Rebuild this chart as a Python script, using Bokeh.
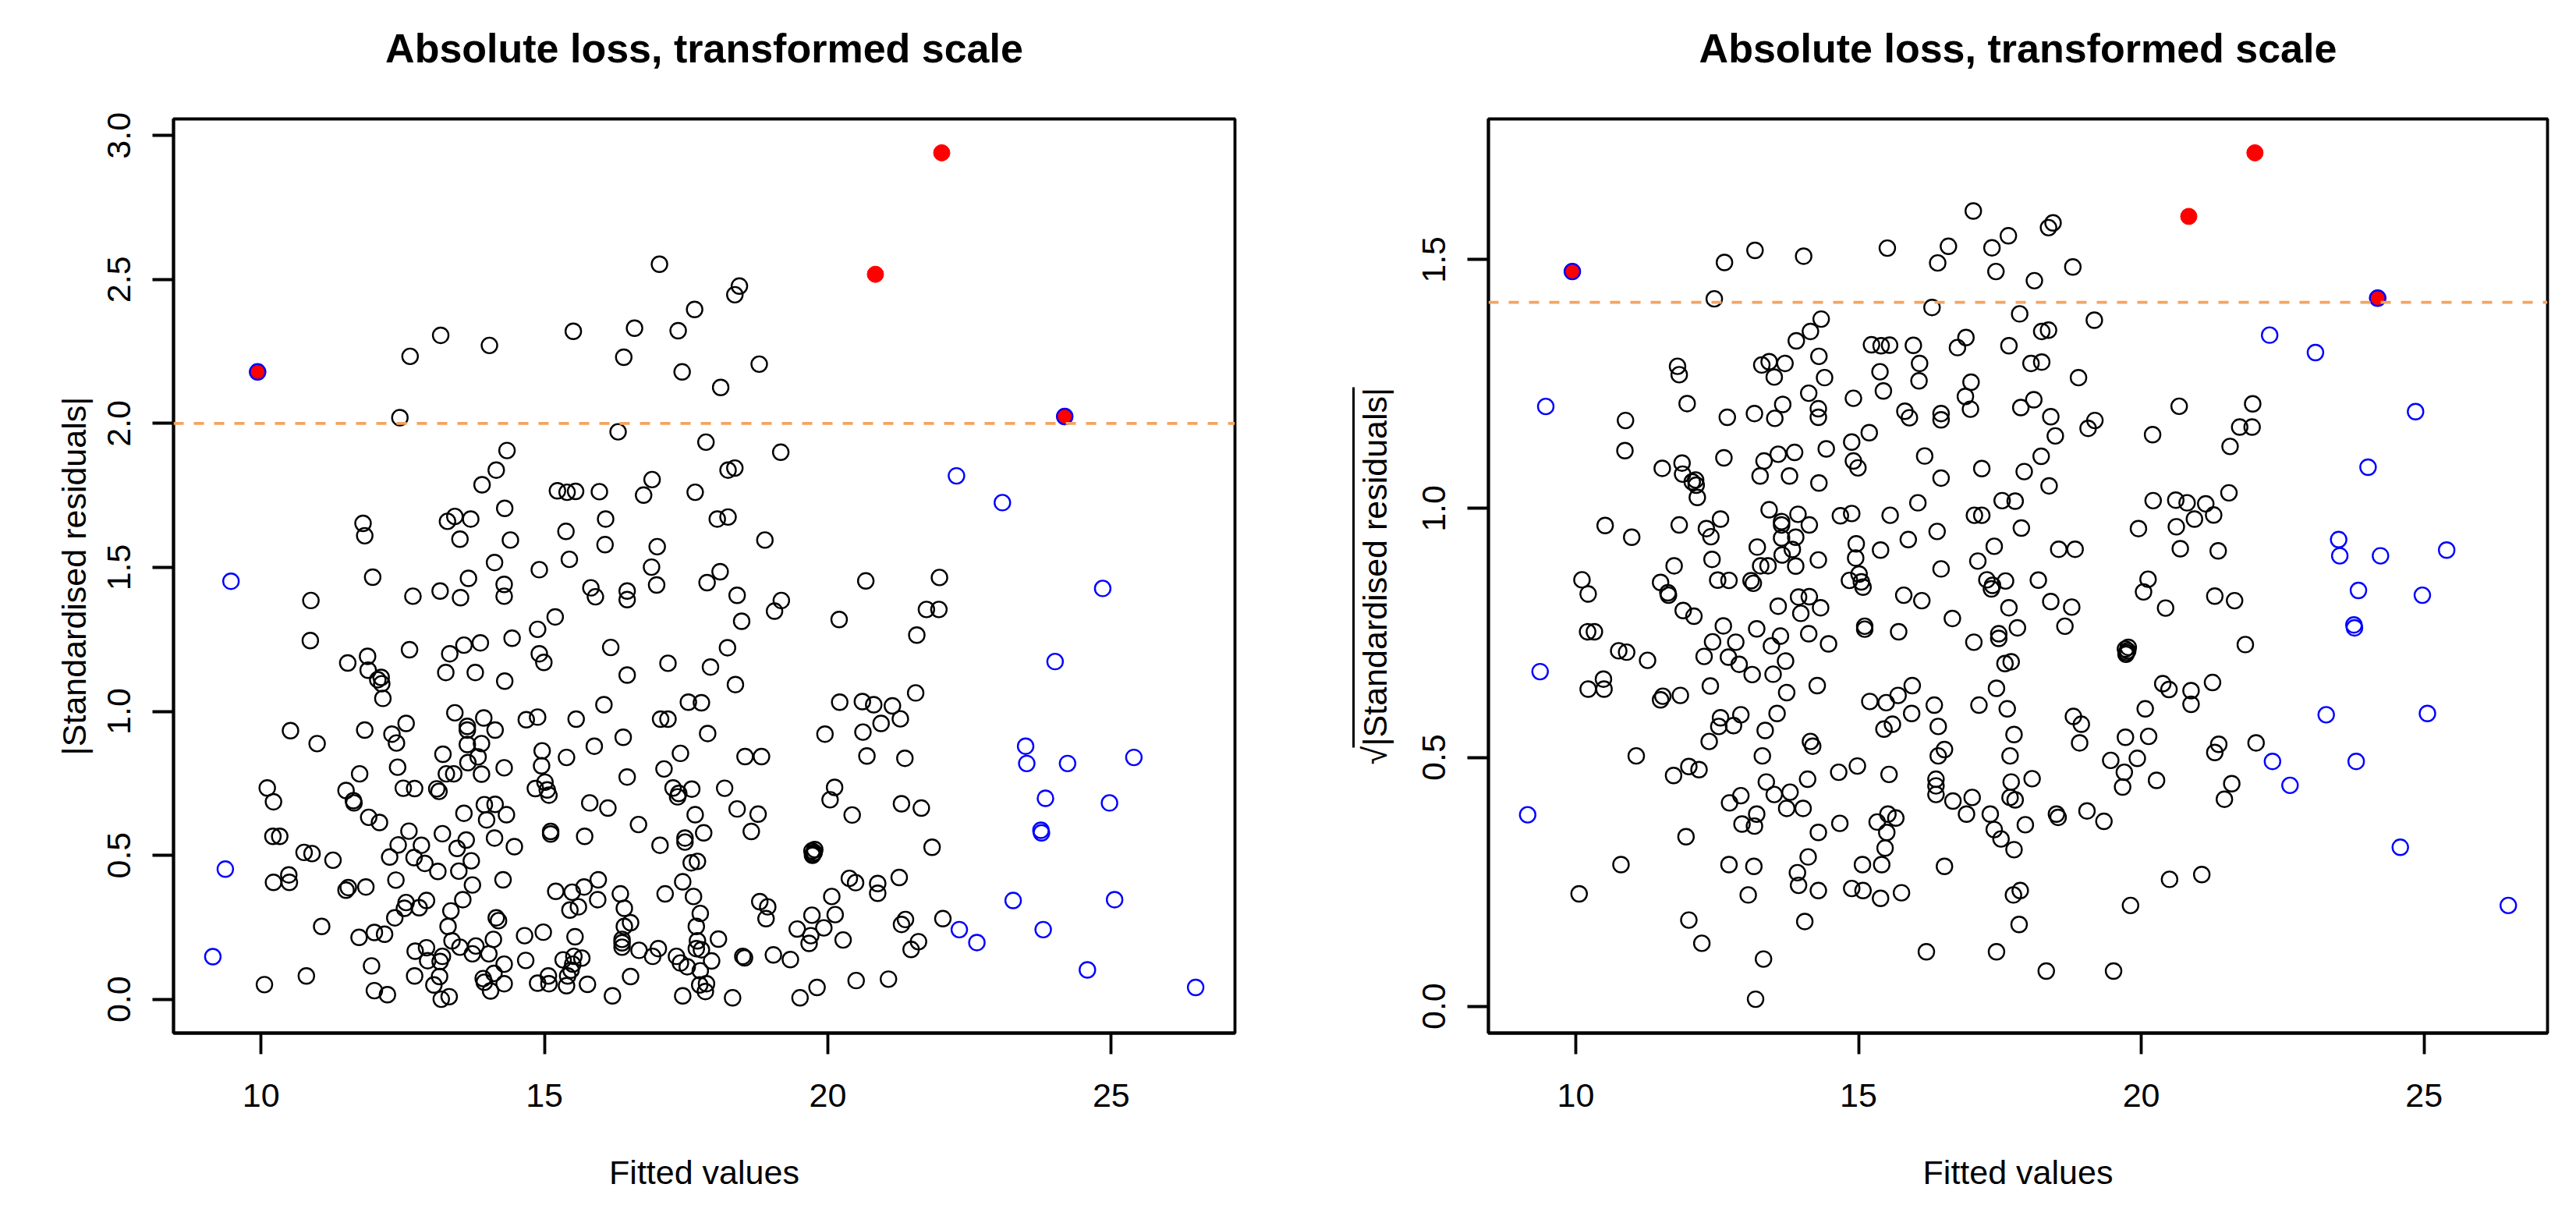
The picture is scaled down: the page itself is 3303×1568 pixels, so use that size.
import math
from bokeh.plotting import figure
from bokeh.layouts import row, column
from bokeh.models import Range1d, Span, FixedTicker, PrintfTickFormatter, LinearAxis
from bokeh.core.properties import value
from bokeh.embed import file_html
from bokeh.resources import INLINE

# ---------------- data ----------------
black_fitted = [
    12.45, 14.15, 13.90, 11.80, 11.83, 13.29, 13.42, 13.70, 13.51, 14.12, 11.97, 13.66, 13.16, 12.68, 13.52,
    10.88, 10.87, 12.62, 13.33, 13.58, 13.87, 11.53, 11.88, 11.89, 12.06, 12.12, 12.13, 12.15, 13.26, 13.78, 13.42,
    16.30, 17.85, 19.17, 14.34, 18.24, 18.36, 16.90, 16.75, 17.66, 15.23, 15.40, 15.55, 15.97, 14.30, 16.08, 18.05,
    18.24, 15.38, 14.40, 16.07, 16.99, 18.89, 15.44, 14.91, 16.89, 18.10, 14.29, 14.29, 15.82, 15.90, 16.46, 16.46,
    16.98, 17.87, 18.40, 19.18, 19.06, 15.19, 14.88, 14.43, 14.91, 14.99, 18.48, 16.17, 18.23, 17.18, 17.93, 16.46,
    14.30, 18.37, 16.05, 17.54, 17.77,
    20.67, 21.97, 20.20, 21.74, 21.96, 21.57, 21.55, 20.21, 20.61, 20.81, 21.14,
    13.93, 10.52, 10.99, 11.83, 12.56, 12.31, 12.39, 13.64, 13.64, 14.13, 13.64, 13.89, 13.21, 13.83, 13.65, 13.89,
    13.27, 13.40, 13.10, 13.14, 12.41, 12.51, 12.71, 11.74, 11.50, 11.63, 11.64, 10.11, 10.22, 11.90, 12.09, 10.21,
    10.33, 10.76, 10.90, 11.27, 10.22, 10.49, 10.50, 11.50, 11.54, 11.85, 13.58, 13.94, 14.13, 13.98, 12.61, 12.42,
    12.27, 12.83, 12.70, 12.89, 13.12, 13.20, 13.46, 13.62, 13.71, 13.49, 14.12, 12.38, 13.73, 12.56, 12.53, 12.79,
    12.92, 12.36, 13.56, 13.35, 13.30, 13.37, 13.51, 13.79, 13.73, 14.02, 14.10, 14.15, 14.19, 11.07, 11.73, 12.00,
    12.18, 12.72, 12.92, 12.94, 13.20, 13.16, 11.95, 12.71, 13.15, 13.05, 13.18, 13.32, 13.92, 13.94, 14.05, 14.11,
    10.06, 10.80, 12.00, 12.23,
    14.68, 14.88, 15.56, 17.05, 17.18, 17.88, 14.96, 14.95, 15.39, 15.88, 16.39, 17.40, 17.11, 14.29, 16.46, 18.54,
    18.83, 18.18, 14.84, 15.01, 15.05, 15.08, 17.27, 17.37, 17.35, 17.60, 15.80, 16.12, 14.33, 17.66, 18.40, 18.77,
    16.66, 15.11, 15.11, 15.71, 14.47, 17.04, 17.48, 17.48, 17.81, 18.65, 17.59, 17.70, 14.27, 15.20, 15.49, 15.70,
    15.95, 15.94, 15.45, 15.60, 16.34, 16.41, 16.52, 16.41, 16.37, 16.37, 16.37, 16.67, 16.91, 17.01, 17.44, 17.13,
    17.63, 17.75, 17.68, 17.70, 17.68, 17.77, 17.95, 18.07, 17.75, 17.86, 17.74, 17.84, 17.33, 17.40, 17.52, 17.44,
    18.32, 18.80, 18.94, 18.91, 18.53, 18.50, 19.04, 19.34, 19.46, 19.67, 19.70, 19.72, 19.51, 14.29, 14.29, 14.65,
    14.98, 15.54, 14.67, 14.88, 15.07, 15.08, 15.33, 15.52, 15.66, 15.50, 15.47, 15.41, 15.39, 15.76, 16.20, 16.52,
    19.95, 20.62, 20.94, 21.28, 20.69, 21.36, 20.12, 20.04, 20.43, 21.30, 21.65, 19.72, 19.74, 19.76, 19.73, 19.77,
    21.84, 20.38, 20.49, 20.88, 20.88, 21.26, 20.07, 20.13, 19.93, 20.27, 21.37, 21.30, 21.60, 21.47, 22.03, 20.50,
    21.07, 19.81,
    12.63, 13.17, 14.03, 15.51, 16.40, 16.59, 17.03, 17.36, 17.43, 17.65, 18.36, 18.44, 18.11, 18.79,
]
black_absres = [
    2.020, 1.838, 1.787, 1.653, 1.610, 1.660, 1.677, 1.668, 1.598, 1.517, 1.466, 1.462, 1.418, 1.400, 1.395,
    1.385, 1.246, 1.214, 1.200, 1.230, 1.238, 1.168, 1.191, 1.143, 1.110, 1.118, 1.096, 1.045, 1.135, 1.135, 0.995,
    1.971, 1.935, 1.900, 1.906, 1.838, 1.845, 1.805, 1.751, 1.761, 1.766, 1.761, 1.764, 1.763, 1.705, 1.668, 1.668,
    1.675, 1.625, 1.595, 1.579, 1.572, 1.595, 1.528, 1.492, 1.501, 1.485, 1.441, 1.400, 1.429, 1.398, 1.418, 1.388,
    1.439, 1.447, 1.403, 1.385, 1.348, 1.328, 1.285, 1.254, 1.200, 1.170, 1.313, 1.222, 1.221, 1.167, 1.154, 1.126,
    1.105, 1.093, 1.023, 1.032, 1.030,
    1.453, 1.465, 1.319, 1.354, 1.354, 1.265, 1.064, 1.032, 1.034, 1.023, 1.019,
    0.977, 0.933, 0.888, 0.935, 0.958, 0.921, 0.890, 0.948, 0.935, 0.935, 0.885, 0.888, 0.851, 0.842, 0.822, 0.782,
    0.783, 0.783, 0.731, 0.722, 0.806, 0.733, 0.732, 0.783, 0.725, 0.690, 0.682, 0.734, 0.686, 0.632, 0.614, 0.566,
    0.566, 0.510, 0.506, 0.483, 0.406, 0.432, 0.406, 0.379, 0.388, 0.390, 0.646, 0.676, 0.677, 0.623, 0.584, 0.536,
    0.494, 0.535, 0.492, 0.472, 0.444, 0.575, 0.524, 0.553, 0.481, 0.445, 0.560, 0.414, 0.397, 0.336, 0.316, 0.318,
    0.343, 0.283, 0.346, 0.307, 0.253, 0.203, 0.181, 0.185, 0.158, 0.158, 0.208, 0.283, 0.273, 0.253, 0.215, 0.232,
    0.226, 0.167, 0.179, 0.134, 0.149, 0.131, 0.116, 0.081, 0.079, 0.050, 0.0002, 0.009, 0.072, 0.059, 0.029, 0.090,
    0.051, 0.081, 0.030, 0.016,
    0.971, 0.980, 0.973, 0.973, 0.973, 0.923, 0.863, 0.811, 0.840, 0.879, 0.910, 0.854, 0.800, 0.804, 0.772, 0.843,
    0.843, 0.733, 0.732, 0.754, 0.727, 0.709, 0.734, 0.715, 0.703, 0.730, 0.682, 0.664, 0.641, 0.641, 0.661, 0.643,
    0.607, 0.583, 0.574, 0.566, 0.530, 0.535, 0.560, 0.546, 0.578, 0.583, 0.474, 0.479, 0.415, 0.375, 0.372, 0.390,
    0.415, 0.346, 0.310, 0.321, 0.366, 0.316, 0.266, 0.253, 0.208, 0.196, 0.181, 0.170, 0.149, 0.176, 0.408, 0.366,
    0.357, 0.298, 0.253, 0.203, 0.176, 0.172, 0.133, 0.209, 0.099, 0.054, 0.050, 0.027, 0.149, 0.126, 0.113, 0.012,
    0.005, 0.339, 0.321, 0.280, 0.144, 0.149, 0.154, 0.138, 0.244, 0.194, 0.221, 0.292, 0.005, 0.122, 0.054, 0.221,
    0.233, 0.217, 0.135, 0.056, 0.081, 0.054, 0.137, 0.149, 0.143, 0.122, 0.101, 0.081, 0.047, 0.052, 0.012, 0.079,
    0.921, 0.928, 0.958, 0.974, 0.845, 0.837, 0.736, 0.693, 0.640, 0.679, 0.664, 0.515, 0.505, 0.510, 0.500, 0.520,
    0.528, 0.420, 0.405, 0.402, 0.368, 0.423, 0.357, 0.294, 0.248, 0.206, 0.277, 0.260, 0.200, 0.173, 0.280, 0.065,
    0.070, 0.041,
    2.233, 2.306, 2.271, 2.320, 2.230, 2.331, 2.553, 2.322, 2.179, 2.396, 2.447, 2.477, 2.125, 2.206,
]

# high-leverage points (blue)
blue_fitted = [9.94, 24.18, 9.47, 22.27, 23.08, 24.85, 24.01, 9.37, 9.15, 23.49, 23.51, 24.23,
               25.40, 23.84, 24.97, 23.76, 23.77, 22.32, 22.63, 23.27, 23.80, 25.06, 24.58, 26.49]
blue_absres = [2.179, 2.024, 1.452, 1.818, 1.725, 1.427, 1.173, 0.452, 0.148, 0.879, 0.819, 0.819,
               0.840, 0.698, 0.682, 0.587, 0.578, 0.242, 0.197, 0.343, 0.242, 0.346, 0.102, 0.041]

# outliers (red)
red_fitted = [9.94, 20.84, 22.01, 24.18]
red_absres = [2.179, 2.518, 2.940, 2.024]

threshold = 2.0
title_text = "Absolute loss, transformed scale"
x_label = "Fitted values"
y_label_left = "|Standardised residuals|"
y_label_right = "\u221a|Standardised residuals|"
x_ticks = [10, 15, 20, 25]
y_ticks_left = [0.0, 0.5, 1.0, 1.5, 2.0, 2.5, 3.0]
y_ticks_right = [0.0, 0.5, 1.0, 1.5]

FONT = "Liberation Sans"
LW = 3.8
FIG_W = 1643
TITLE_H = 100               # strip that holds the main title
MAIN_H = 1552 - TITLE_H
B_TOP, B_BOTTOM = 52, 228
FRAME_H = MAIN_H - B_TOP - B_BOTTOM
TITLE_BASELINE_FROM_TOP = 61


def padded(vals):
    lo, hi = min(vals), max(vals)
    d = 0.04 * (hi - lo)
    return Range1d(lo - d, hi + d)


all_fit = black_fitted + blue_fitted + red_fitted


def make_title(xr, border_left, border_right):
    t = figure(width=FIG_W, height=TITLE_H, output_backend="svg", toolbar_location=None,
               x_range=xr, y_range=Range1d(0, TITLE_H), x_axis_type=None, y_axis_type=None,
               min_border_left=border_left, min_border_right=border_right,
               min_border_top=0, min_border_bottom=0)
    t.outline_line_color = None
    t.background_fill_color = "white"
    t.border_fill_color = "white"
    t.text(x=[0.5 * (xr.start + xr.end)], y=[TITLE_H - TITLE_BASELINE_FROM_TOP], text=[title_text],
           text_align="center", text_baseline="alphabetic", text_font=value(FONT),
           text_font_size="52px", text_font_style="bold", text_color="black")
    return t


def make_panel(transform, ylabel, yticks, border_left, border_right, ylab_standoff, radical=False):
    bx = black_fitted
    by = [transform(v) for v in black_absres]
    ux = blue_fitted
    uy = [transform(v) for v in blue_absres]
    rx = red_fitted
    ry = [transform(v) for v in red_absres]
    xr = padded(all_fit)
    yr = padded(by + uy + ry)
    px_per_unit = FRAME_H / (yr.end - yr.start)

    p = figure(width=FIG_W, height=MAIN_H, output_backend="svg", toolbar_location=None,
               x_range=xr, y_range=yr,
               min_border_left=border_left, min_border_right=border_right,
               min_border_top=B_TOP, min_border_bottom=B_BOTTOM)
    p.background_fill_color = "white"
    p.border_fill_color = "white"
    p.xgrid.visible = False
    p.ygrid.visible = False
    p.outline_line_color = "black"
    p.outline_line_width = LW

    for ax in (p.xaxis[0], p.yaxis[0]):
        ax.axis_line_width = LW
        ax.axis_line_color = "black"
        ax.major_tick_in = 0
        ax.major_tick_out = 27
        ax.major_tick_line_width = LW
        ax.minor_tick_line_color = None
        ax.major_label_text_font = FONT
        ax.major_label_text_font_size = "43px"
        ax.major_label_text_color = "black"
        ax.axis_label_text_font = FONT
        ax.axis_label_text_font_size = "43px"
        ax.axis_label_text_font_style = "normal"
        ax.axis_label_text_color = "black"

    p.xaxis.ticker = FixedTicker(ticks=x_ticks)
    p.xaxis.major_label_standoff = 38
    p.xaxis.axis_label = x_label
    p.xaxis.axis_label_standoff = 57

    p.yaxis.ticker = FixedTicker(ticks=yticks)
    p.yaxis.formatter = PrintfTickFormatter(format="%.1f")
    p.yaxis.major_label_orientation = "vertical"
    p.yaxis.major_label_standoff = 28
    p.yaxis.axis_label = ylabel
    p.yaxis.axis_label_standoff = ylab_standoff

    if radical:
        # vinculum of the square-root sign, drawn as a bare axis line over the label
        mid = 0.5 * (yr.start + yr.end)
        half = 484 / 2.0
        vin = LinearAxis(bounds=(mid - (half - 22) / px_per_unit, mid + half / px_per_unit),
                         ticker=FixedTicker(ticks=[]), axis_line_width=3.0,
                         axis_line_color="black", major_tick_line_color=None,
                         minor_tick_line_color=None, major_label_text_font_size="0px")
        p.add_layout(vin, "left")

    p.add_layout(Span(location=transform(threshold), dimension="width",
                      line_color="#F4A460", line_width=3.8, line_dash="13 13"))

    p.scatter(bx, by, marker="circle", size=20, fill_color=None,
              line_color="black", line_width=2.4)
    p.scatter(rx, ry, marker="circle", size=21, fill_color="red",
              line_color="red", line_width=1)
    p.scatter(ux, uy, marker="circle", size=20, fill_color=None,
              line_color="blue", line_width=2.4)
    return column(make_title(xr, border_left, border_right), p)


left = make_panel(lambda v: v, y_label_left, y_ticks_left, 222, 60, 17)
right = make_panel(lambda v: math.sqrt(v), y_label_right, y_ticks_right, 265, 20, 35, radical=True)

layout = row(left, right)
open("out.html", "w").write(file_html(layout, INLINE))
